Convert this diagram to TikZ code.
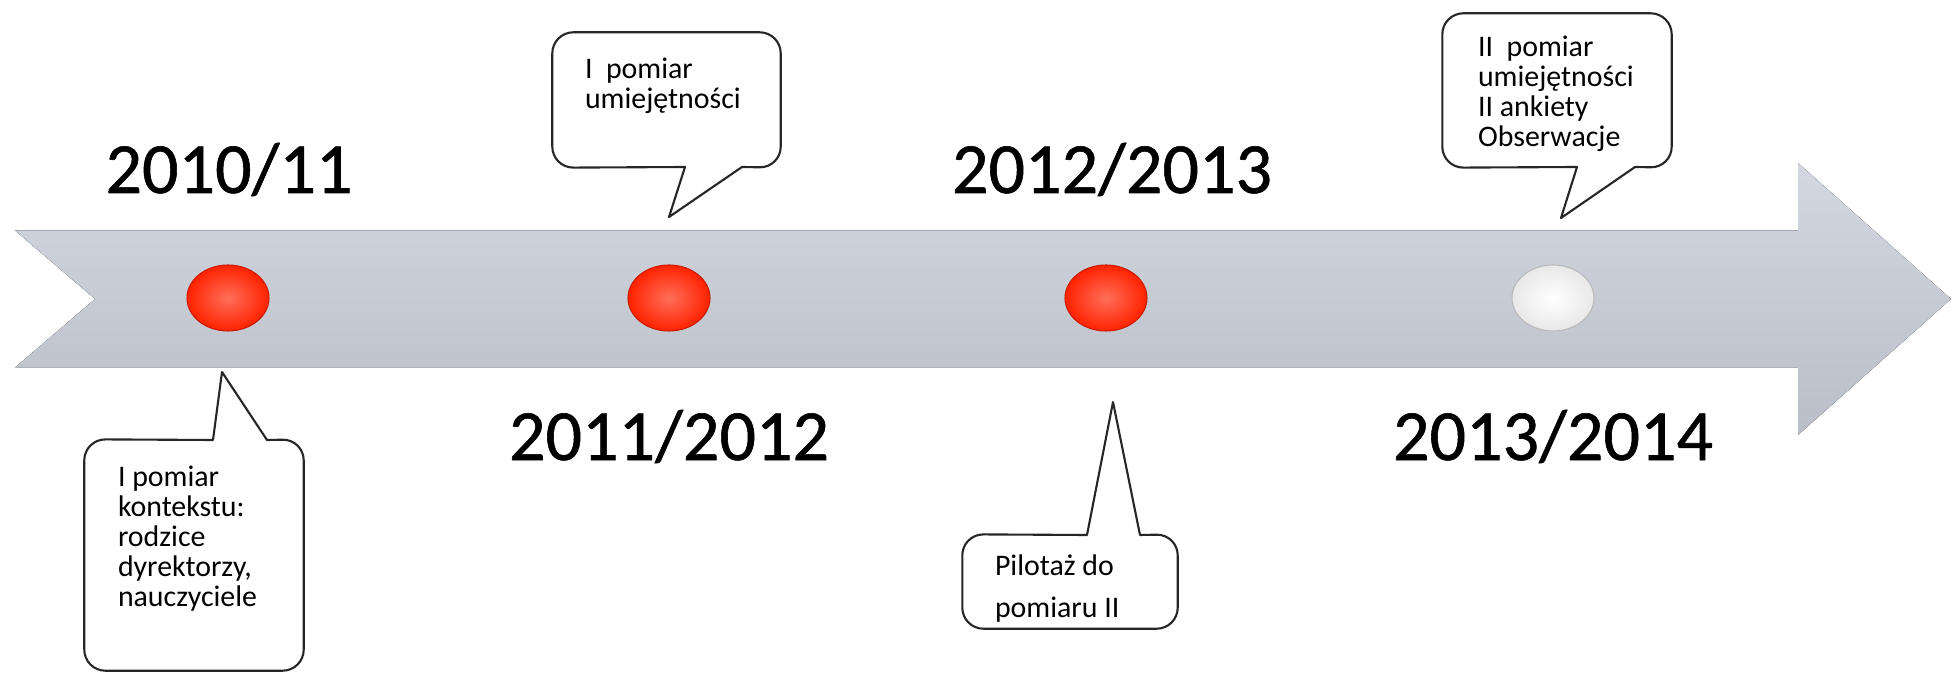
\documentclass[tikz,border=0pt]{standalone}
\usepackage{fontspec}
\setmainfont{Carlito}
\usetikzlibrary{shapes.geometric,positioning}
\definecolor{bandtop}{RGB}{211,215,223}
\definecolor{bandbot}{RGB}{186,190,199}
\definecolor{ballred}{RGB}{255,34,0}
\tikzstyle{band}=[top color=bandtop,bottom color=bandbot,draw=none]
\tikzstyle{ball}=[ellipse,minimum width=0.82cm,minimum height=0.66cm,inner sep=0pt,draw=ballred!80!black,line width=0.3pt,shading=radial,inner color=ballred!65!white,outer color=ballred]
\tikzstyle{whiteball}=[ball,draw=gray!55,inner color=white,outer color=gray!18]
\tikzstyle{year}=[font=\fontsize{20.5}{24}\selectfont\addfontfeature{FakeBold=0.8},anchor=base,inner sep=0pt]
\tikzstyle{bubble}=[inner sep=0pt]
\tikzstyle{note}=[font=\fontsize{8.5}{8.5}\selectfont,align=left,inner sep=0pt]
\tikzstyle{outline}=[draw=black!85,line width=0.6pt,line join=round]

\begin{document}
\begin{tikzpicture}
\useasboundingbox (0,0) rectangle (19.51,6.75);
% timeline band
\fill[band] (0.15,4.445) -- (17.98,4.445) -- (17.98,5.12) -- (19.51,3.76) -- (17.98,2.40)
  -- (17.98,3.075) -- (0.15,3.075) -- (0.95,3.76) -- cycle;
% dots
\node[ball] at (2.28,3.77) (d1) {};
\node[ball] at (6.69,3.77) (d2) {};
\node[ball] at (11.06,3.77) (d3) {};
\node[whiteball] at (15.53,3.77) (d4) {};
% years
\node[year] at (2.29,4.82) (y1) {2010/11};
\node[year] at (6.69,2.15) (y2) {2011/2012};
\node[year] at (11.12,4.82) (y3) {2012/2013};
\node[year] at (15.53,2.15) (y4) {2013/2014};
% callouts
\coordinate (tipA) at (2.22,3.03);
\coordinate (tipB) at (6.69,4.58);
\coordinate (tipC) at (11.13,2.73);
\coordinate (tipD) at (15.61,4.57);
\node[bubble,minimum width=2.18cm,minimum height=2.30cm] at (1.94,1.20) (balA) {};
\node[bubble,minimum width=2.27cm,minimum height=1.34cm] at (6.665,5.75) (balB) {};
\node[bubble,minimum width=2.14cm,minimum height=0.93cm] at (10.70,0.935) (balC) {};
\node[bubble,minimum width=2.28cm,minimum height=1.53cm] at (15.57,5.845) (balD) {};
\draw[outline] (tipA) -- (2.67,2.35) [rounded corners=6pt] -- (balA.north east) -- (balA.south east)
  -- (balA.south west) -- (balA.north west) [sharp corners] -- (2.13,2.35) -- cycle;
\draw[outline] (tipB) -- (7.42,5.08) [rounded corners=6pt] -- (balB.south east) -- (balB.north east)
  -- (balB.north west) -- (balB.south west) [sharp corners] -- (6.85,5.08) -- cycle;
\draw[outline] (tipC) -- (11.40,1.40) [rounded corners=6pt] -- (balC.north east) -- (balC.south east)
  -- (balC.south west) -- (balC.north west) [sharp corners] -- (10.87,1.40) -- cycle;
\draw[outline] (tipD) -- (16.35,5.08) [rounded corners=6pt] -- (balD.south east) -- (balD.north east)
  -- (balD.north west) -- (balD.south west) [sharp corners] -- (15.77,5.08) -- cycle;
\node[note,below right=0.26cm and 0.33cm of balA.north west] (txtA)
  {I pomiar\\kontekstu:\\rodzice\\dyrektorzy,\\nauczyciele};
\node[note,below right=0.25cm and 0.32cm of balB.north west] (txtB) {I\ \ pomiar\\umiejętności};
\node[note,font=\fontsize{8.5}{12}\selectfont,below right=0.20cm and 0.32cm of balC.north west] (txtC)
  {Pilotaż do\\pomiaru II};
\node[note,below right=0.22cm and 0.35cm of balD.north west] (txtD)
  {II\ \ pomiar\\umiejętności\\II ankiety\\Obserwacje};
\end{tikzpicture}
\end{document}
